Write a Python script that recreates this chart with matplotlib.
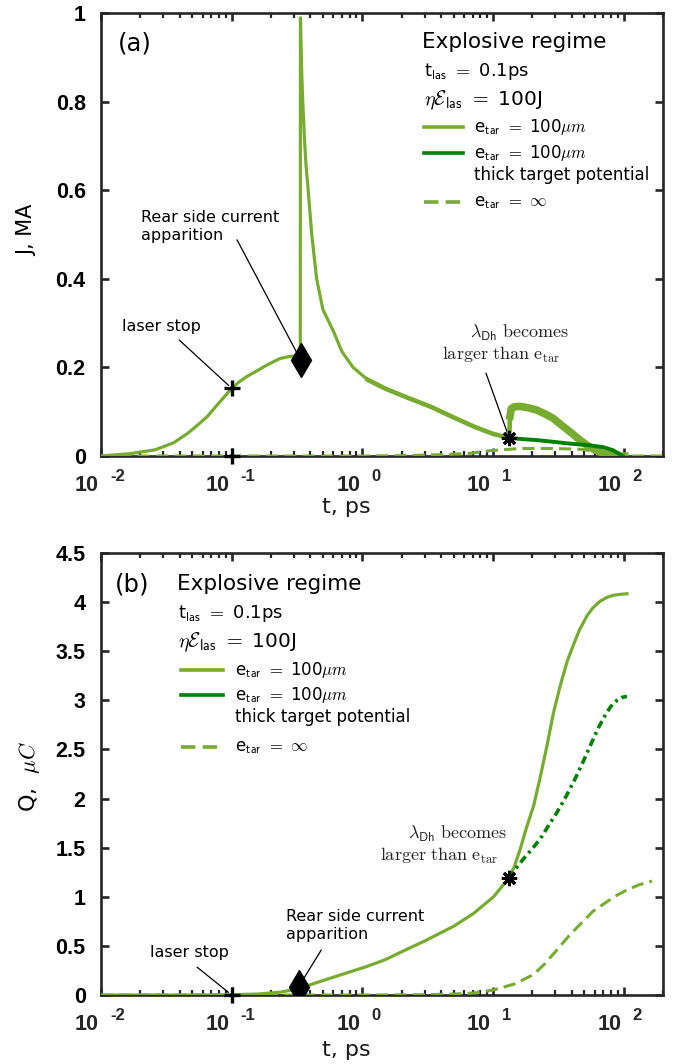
import matplotlib
matplotlib.use("Agg")
import matplotlib.pyplot as plt
import numpy as np
from matplotlib.ticker import LogLocator, NullFormatter, FixedLocator

plt.rcParams['mathtext.fontset'] = 'cm'
plt.rcParams['font.family'] = ['DejaVu Sans']

# colours
lgreen = '#77AC30'
dgreen = '#008000'
axcol = '#262626'

# ---- panel (a): current J, MA ----
t_a = [0.01, 0.0164, 0.026, 0.036, 0.046, 0.055, 0.065, 0.08, 0.09, 0.1, 0.115, 0.13, 0.145,
       0.16, 0.18, 0.2, 0.234, 0.28, 0.317, 0.335,
       0.336, 0.34, 0.345, 0.35, 0.36, 0.37, 0.385, 0.41, 0.447, 0.5, 0.596, 0.7, 0.85, 1.1,
       1.5, 2.2, 3.35, 5.0, 7.2, 10.0, 13.3,
       13.5, 13.8, 14.5, 16.1, 18.5, 21.5, 25, 28.9, 33, 38.7, 45, 52, 60, 69.7, 80, 93, 102]
J_a = [0.0, 0.005, 0.014, 0.03, 0.051, 0.07, 0.089, 0.12, 0.137, 0.153, 0.168, 0.179, 0.187,
       0.194, 0.203, 0.21, 0.22, 0.225, 0.226, 0.226,
       0.989, 0.92, 0.85, 0.80, 0.72, 0.66, 0.60, 0.50, 0.40, 0.33, 0.284, 0.235, 0.2, 0.172,
       0.152, 0.132, 0.111, 0.087, 0.066, 0.05, 0.041,
       0.09, 0.107, 0.111, 0.112, 0.109, 0.104, 0.095, 0.085, 0.071, 0.055, 0.039, 0.025,
       0.014, 0.006, 0.002, 0.0, 0.0]
t_a_thick = [13.3, 17, 21.5, 29, 38.7, 55, 69.7, 83, 98]
J_a_thick = [0.041, 0.038, 0.036, 0.032, 0.028, 0.024, 0.02, 0.013, 0.0]
t_a_inf = [0.01, 0.1, 1, 2.3, 4, 6.65, 9.47, 16.1, 28.9, 49, 69.7, 98, 200]
J_a_inf = [0, 0, 0, 0.001, 0.003, 0.006, 0.012, 0.017, 0.017, 0.015, 0.006, 0, 0]

# ---- panel (b): charge Q, uC ----
t_b = [0.01, 0.05, 0.1, 0.16, 0.24, 0.326, 0.4, 0.55, 0.74, 1.08, 1.5, 2, 3, 5, 7.1, 10.1, 13.2,
       14.5, 16.2, 18, 20.5, 23, 25.9, 29, 32.7, 37, 41.4, 46, 52.4, 58, 66.2, 75, 83.8, 95, 106]
Q_b = [0, 0, 0.003, 0.01, 0.03, 0.065, 0.105, 0.165, 0.22, 0.29, 0.36, 0.44, 0.55, 0.70, 0.83,
       1.0, 1.19,
       1.3, 1.49, 1.7, 1.93, 2.22, 2.54, 2.87, 3.15, 3.4, 3.57, 3.72, 3.86, 3.94, 4.01, 4.05,
       4.07, 4.08, 4.085]
t_b_thick = [13.2, 15, 17.2, 20, 23, 26.5, 30.9, 35.5, 41.4, 48, 55.6, 64, 74.5, 82, 88.9, 97, 106]
Q_b_thick = [1.19, 1.29, 1.39, 1.49, 1.59, 1.72, 1.86, 2.0, 2.17, 2.35, 2.54, 2.72, 2.88, 2.96,
             3.0, 3.03, 3.04]
t_b_inf = [0.01, 0.3, 1, 3, 5, 7.1, 10, 12, 14.4, 17, 20.5, 25, 30.9, 38, 46.5, 58, 74.5, 90,
           106, 130, 165]
Q_b_inf = [0, 0, 0, 0.003, 0.01, 0.02, 0.05, 0.08, 0.11, 0.155, 0.21, 0.32, 0.46, 0.6, 0.72,
           0.85, 0.95, 1.02, 1.07, 1.12, 1.16]

# markers: laser stop, rear side current apparition, lambda_Dh > e_tar
laser_a = [(0.1, 0.153), (0.1, 0.0)]
rear_a = (0.337, 0.217)
lam_a = (13.3, 0.041)
laser_b = (0.1, 0.0)
rear_b = (0.326, 0.085)
lam_b = (13.2, 1.19)

yticks_a = [0, 0.2, 0.4, 0.6, 0.8, 1]
ylabels_a = ['0', '0.2', '0.4', '0.6', '0.8', '1']
yticks_b = [0, 0.5, 1, 1.5, 2, 2.5, 3, 3.5, 4, 4.5]
ylabels_b = ['0', '0.5', '1', '1.5', '2', '2.5', '3', '3.5', '4', '4.5']
decades = [-2, -1, 0, 1, 2]

W, H = 674, 1064
fig = plt.figure(figsize=(W / 100, H / 100), dpi=100)
ax1 = fig.add_axes([101 / W, 1 - 456 / H, 562 / W, 443 / H])
ax2 = fig.add_axes([101 / W, 1 - 995 / H, 562 / W, 442 / H])

tickfont = dict(family='Liberation Sans', weight='bold')


def style(ax, yt, yl, ymax, xlab_y):
    ax.set_xscale('log')
    ax.set_xlim(1e-2, 2e2)
    ax.set_ylim(0, ymax)
    for s in ax.spines.values():
        s.set_color(axcol)
        s.set_linewidth(1.9)
    ax.xaxis.set_major_locator(FixedLocator([10.0 ** k for k in decades]))
    ax.xaxis.set_minor_locator(LogLocator(base=10, subs=np.arange(2, 10)))
    ax.xaxis.set_major_formatter(NullFormatter())
    ax.xaxis.set_minor_formatter(NullFormatter())
    ax.set_yticks(yt)
    ax.set_yticklabels(yl, fontsize=15.5, **tickfont)
    ax.tick_params(which='both', direction='in', top=True, right=True, color=axcol)
    ax.tick_params(which='major', length=6, width=1.9, pad=11)
    ax.tick_params(which='minor', length=3.5, width=1.6)
    for k in decades:
        ax.annotate('10', xy=(10.0 ** k, 0), xycoords=('data', 'axes fraction'),
                    xytext=(-1.5, -21.5), textcoords='offset points', ha='right', va='center',
                    fontsize=15.5, color=axcol, **tickfont, annotation_clip=False)
        ax.annotate(str(k), xy=(10.0 ** k, 0), xycoords=('data', 'axes fraction'),
                    xytext=(6.5, -14.5), textcoords='offset points', ha='left', va='center',
                    fontsize=12, color=axcol, **tickfont, annotation_clip=False)
    ax.text(0.436, xlab_y, 't, ps', transform=ax.transAxes, ha='center', va='center',
            fontsize=16, color='#1a1a1a')


style(ax1, yticks_a, ylabels_a, 1, -0.115)
style(ax2, yticks_b, ylabels_b, 4.5, -0.125)

# ---------------- panel (a) ----------------
ax1.plot(t_a_inf, J_a_inf, color=lgreen, lw=2.2, dashes=(4, 2), zorder=3)
ax1.plot(t_a, J_a, color=lgreen, lw=2.3, zorder=4)
n1 = t_a.index(1.1)
ax1.plot(t_a[n1:], J_a[n1:], color=lgreen, lw=3.3, zorder=4)
n2 = t_a.index(13.5)
ax1.plot(t_a[n2:], J_a[n2:], color=lgreen, lw=5.5, zorder=4)
ax1.plot(t_a_thick, J_a_thick, color=dgreen, lw=2.8, zorder=5)

for p in laser_a:
    ax1.plot(*p, marker='+', ms=11, mew=2.4, color='k', zorder=7, clip_on=False)
ax1.plot(*rear_a, marker='d', ms=17, color='k', zorder=7)
ax1.plot(*lam_a, marker=(8, 2, 0), ms=11, mew=2.2, color='k', zorder=7)

ax1.text(0.060, 0.932, '(a)', transform=ax1.transAxes, ha='center', va='center', fontsize=17.5)
ax1.text(0.572, 0.935, 'Explosive regime', transform=ax1.transAxes, va='center', fontsize=15.5)
ax1.text(0.574, 0.867, r't$_\mathsf{las}$ $=$ 0.1ps', transform=ax1.transAxes, va='center', fontsize=13)
ax1.text(0.574, 0.804, r'$\eta\mathcal{E}_\mathsf{las}$ $=$ 100J', transform=ax1.transAxes, va='center', fontsize=14.5)
leg_a = [(0.743, lgreen, '-'), (0.684, dgreen, '-'), (0.573, lgreen, '--')]
for y, c, ls in leg_a:
    ax1.plot([0.574, 0.644], [y, y], transform=ax1.transAxes, color=c, lw=2.6,
             ls=ls, dashes=(4, 2) if ls == '--' else (None, None))
ax1.text(0.664, 0.743, r'e$_\mathsf{tar}$ $=$ 100$\mu m$', transform=ax1.transAxes, va='center', fontsize=12)
ax1.text(0.664, 0.684, r'e$_\mathsf{tar}$ $=$ 100$\mu m$', transform=ax1.transAxes, va='center', fontsize=12)
ax1.text(0.664, 0.634, 'thick target potential', transform=ax1.transAxes, va='center', fontsize=12)
ax1.text(0.664, 0.573, r'e$_\mathsf{tar}$ $=$ $\infty$', transform=ax1.transAxes, va='center', fontsize=12)

ax1.text(0.037, 0.293, 'laser stop', transform=ax1.transAxes, va='center', fontsize=11.5)
ax1.annotate('', xy=laser_a[0], xytext=(0.139, 0.262), textcoords='axes fraction',
             arrowprops=dict(arrowstyle='-', color='k', lw=0.9, shrinkA=0, shrinkB=3))
ax1.text(0.071, 0.517, 'Rear side current\napparition', transform=ax1.transAxes, va='center',
         fontsize=11.5, linespacing=1.25)
ax1.annotate('', xy=rear_a, xytext=(0.242, 0.488), textcoords='axes fraction',
             arrowprops=dict(arrowstyle='-', color='k', lw=0.9, shrinkA=0, shrinkB=4))
ax1.text(0.657, 0.278, r'$\lambda_\mathsf{Dh}\ \mathrm{becomes}$', transform=ax1.transAxes,
         va='center', fontsize=13, color='#222222')
ax1.text(0.607, 0.228, r'$\mathrm{larger\ than\ e}_\mathrm{tar}$', transform=ax1.transAxes,
         va='center', fontsize=13, color='#222222')
ax1.annotate('', xy=lam_a, xytext=(0.685, 0.187), textcoords='axes fraction',
             arrowprops=dict(arrowstyle='-', color='k', lw=0.9, shrinkA=0, shrinkB=3))
ax1.text(-0.132, 0.51, 'J, MA', transform=ax1.transAxes, rotation=90, ha='center', va='center', fontsize=15)

# ---------------- panel (b) ----------------
ax2.plot(t_b_inf, Q_b_inf, color=lgreen, lw=2.2, dashes=(4, 2), zorder=3)
ax2.plot(t_b, Q_b, color=lgreen, lw=2.3, zorder=4)
ax2.plot(t_b_thick, Q_b_thick, color=dgreen, lw=2.6, dashes=(2.2, 1.2, 0.8, 1.2), zorder=5)

ax2.plot(*laser_b, marker='+', ms=11, mew=2.4, color='k', zorder=7, clip_on=False)
ax2.plot(*rear_b, marker='d', ms=17, color='k', zorder=7)
ax2.plot(*lam_b, marker=(8, 2, 0), ms=11, mew=2.2, color='k', zorder=7)

ax2.text(0.055, 0.929, '(b)', transform=ax2.transAxes, ha='center', va='center', fontsize=17.5)
ax2.text(0.135, 0.930, 'Explosive regime', transform=ax2.transAxes, va='center', fontsize=15.5)
ax2.text(0.137, 0.864, r't$_\mathsf{las}$ $=$ 0.1ps', transform=ax2.transAxes, va='center', fontsize=13)
ax2.text(0.137, 0.799, r'$\eta\mathcal{E}_\mathsf{las}$ $=$ 100J', transform=ax2.transAxes, va='center', fontsize=14.5)
leg_b = [(0.735, lgreen, '-'), (0.679, dgreen, '-'), (0.561, lgreen, '--')]
for y, c, ls in leg_b:
    ax2.plot([0.142, 0.217], [y, y], transform=ax2.transAxes, color=c, lw=2.6,
             ls=ls, dashes=(4, 2) if ls == '--' else (None, None))
ax2.text(0.238, 0.735, r'e$_\mathsf{tar}$ $=$ 100$\mu m$', transform=ax2.transAxes, va='center', fontsize=12)
ax2.text(0.238, 0.679, r'e$_\mathsf{tar}$ $=$ 100$\mu m$', transform=ax2.transAxes, va='center', fontsize=12)
ax2.text(0.238, 0.629, 'thick target potential', transform=ax2.transAxes, va='center', fontsize=12)
ax2.text(0.238, 0.561, r'e$_\mathsf{tar}$ $=$ $\infty$', transform=ax2.transAxes, va='center', fontsize=12)

ax2.text(0.087, 0.097, 'laser stop', transform=ax2.transAxes, va='center', fontsize=11.5)
ax2.annotate('', xy=laser_b, xytext=(0.171, 0.063), textcoords='axes fraction',
             arrowprops=dict(arrowstyle='-', color='k', lw=0.9, shrinkA=0, shrinkB=3))
ax2.text(0.33, 0.158, 'Rear side current\napparition', transform=ax2.transAxes, va='center',
         fontsize=11.5, linespacing=1.25)
ax2.annotate('', xy=rear_b, xytext=(0.392, 0.102), textcoords='axes fraction',
             arrowprops=dict(arrowstyle='-', color='k', lw=0.9, shrinkA=0, shrinkB=4))
ax2.text(0.547, 0.364, r'$\lambda_\mathsf{Dh}\ \mathrm{becomes}$', transform=ax2.transAxes,
         va='center', fontsize=13, color='#222222')
ax2.text(0.496, 0.314, r'$\mathrm{larger\ than\ e}_\mathrm{tar}$', transform=ax2.transAxes,
         va='center', fontsize=13, color='#222222')
ax2.text(-0.128, 0.495, r'Q,  $\mu C$', transform=ax2.transAxes, rotation=90, ha='center', va='center', fontsize=16)

fig.savefig('out.png', dpi=100)
